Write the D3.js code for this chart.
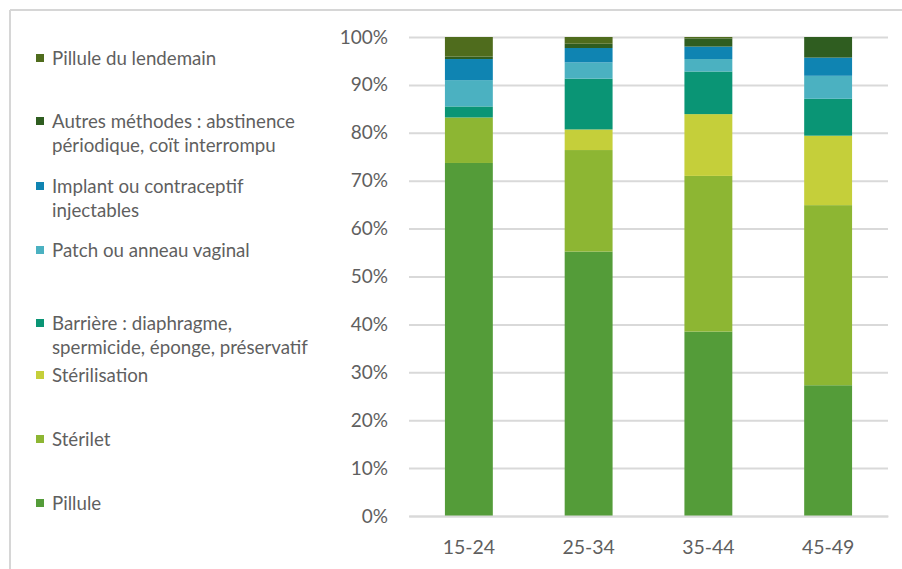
<!DOCTYPE html>
<html><head><meta charset="utf-8">
<script src="https://cdn.jsdelivr.net/npm/d3@7"></script>
<style>
html,body{margin:0;padding:0;background:#fff;}
svg{display:block;font-family:Lato,"Open Sans",sans-serif;}
</style></head>
<body>
<svg id="chart" width="902" height="569"></svg>
<script>
// ---- data ----
const categories = ["15-24", "25-34", "35-44", "45-49"];
const seriesNames = [
  "Pillule",
  "Stérilet",
  "Stérilisation",
  "Barrière : diaphragme, spermicide, éponge, préservatif",
  "Patch ou anneau vaginal",
  "Implant ou contraceptif injectables",
  "Autres méthodes : abstinence périodique, coït interrompu",
  "Pillule du lendemain"
];
const pillule       = [73.7, 55.2, 38.5, 27.3];
const sterilet      = [9.5, 21.2, 32.5, 37.6];
const sterilisation = [0.0, 4.3, 12.9, 14.5];
const barriere      = [2.3, 10.6, 8.9, 7.7];
const patch         = [5.5, 3.4, 2.6, 4.8];
const implant       = [4.4, 3.0, 2.6, 3.8];
const autres        = [0.5, 0.9, 1.7, 4.3];
const lendemain     = [4.1, 1.4, 0.3, 0.0];
const yTicks = [0, 10, 20, 30, 40, 50, 60, 70, 80, 90, 100];
const legendLines = [
  ["Pillule du lendemain"],
  ["Autres méthodes : abstinence", "périodique, coït interrompu"],
  ["Implant ou contraceptif", "injectables"],
  ["Patch ou anneau vaginal"],
  ["Barrière : diaphragme,", "spermicide, éponge, préservatif"],
  ["Stérilisation"],
  ["Stérilet"],
  ["Pillule"]
];

// ---- style / layout ----
const colors = ["#549c39", "#8db633", "#c5cf3a", "#0a9575", "#4bb1c1", "#0f84b2", "#2f5d20", "#4f6c1d"];
const legendY = [58, 121, 186, 250, 323, 375, 439, 503];
const textColor = "#5f5f5f";
const gridColor = "#d9d9d9";

const series = [pillule, sterilet, sterilisation, barriere, patch, implant, autres, lendemain];
const rows = categories.map((c, i) => {
  const o = {cat: c};
  seriesNames.forEach((s, k) => o[s] = series[k][i]);
  return o;
});
const stack = d3.stack().keys(seriesNames)(rows);

const svg = d3.select("#chart");
// frame
svg.append("line").attr("x1", 10).attr("x2", 902).attr("y1", 10).attr("y2", 10)
  .attr("stroke", "#d6d6d6").attr("stroke-width", 2);
svg.append("line").attr("x1", 10).attr("x2", 10).attr("y1", 10).attr("y2", 569)
  .attr("stroke", "#d6d6d6").attr("stroke-width", 2);

const x = d3.scaleBand().domain(categories).range([409, 888]).paddingInner(0.6).paddingOuter(0.3);
const y = d3.scaleLinear().domain([0, 100]).range([516, 37]);

// gridlines
const yAxis = d3.axisLeft(y).tickValues(yTicks).tickSize(-(888 - 409)).tickFormat(d => d + "%").tickPadding(21);
const gy = svg.append("g").attr("transform", "translate(409,0)").call(yAxis);
gy.select(".domain").remove();
gy.selectAll(".tick line").attr("stroke", gridColor).attr("stroke-width", 2);
gy.selectAll(".tick text").attr("fill", textColor).style("font-size", "19px").style("font-family", "Lato");

// bars
svg.append("g").selectAll("g").data(stack).join("g")
  .attr("fill", (d, i) => colors[i])
  .selectAll("rect").data(d => d).join("rect")
  .attr("x", d => x(d.data.cat))
  .attr("width", x.bandwidth())
  .attr("y", d => y(d[1]))
  .attr("height", d => Math.max(0, y(d[0]) - y(d[1])));

// x axis
const xAxis = d3.axisBottom(x).tickSize(0).tickPadding(24);
const gx = svg.append("g").attr("transform", "translate(0,516)").call(xAxis);
gx.select(".domain").attr("stroke", gridColor).attr("stroke-width", 2);
gx.selectAll(".tick text").attr("fill", textColor).style("font-size", "19.5px").style("font-family", "Lato");

// legend
const legendColors = colors.slice().reverse();
const lg = svg.append("g");
legendLines.forEach((lines, i) => {
  const y0 = legendY[i];
  lg.append("rect").attr("x", 36).attr("y", y0 - 4).attr("width", 8).attr("height", 8).attr("fill", legendColors[i]);
  const t = lg.append("text").attr("x", 52).attr("y", y0)
    .attr("fill", textColor).style("font-size", "18.7px");
  lines.forEach((l, j) => {
    t.append("tspan").attr("x", 52).attr("dy", j === 0 ? "0.35em" : "24").text(l);
  });
});
</script>
</body></html>
